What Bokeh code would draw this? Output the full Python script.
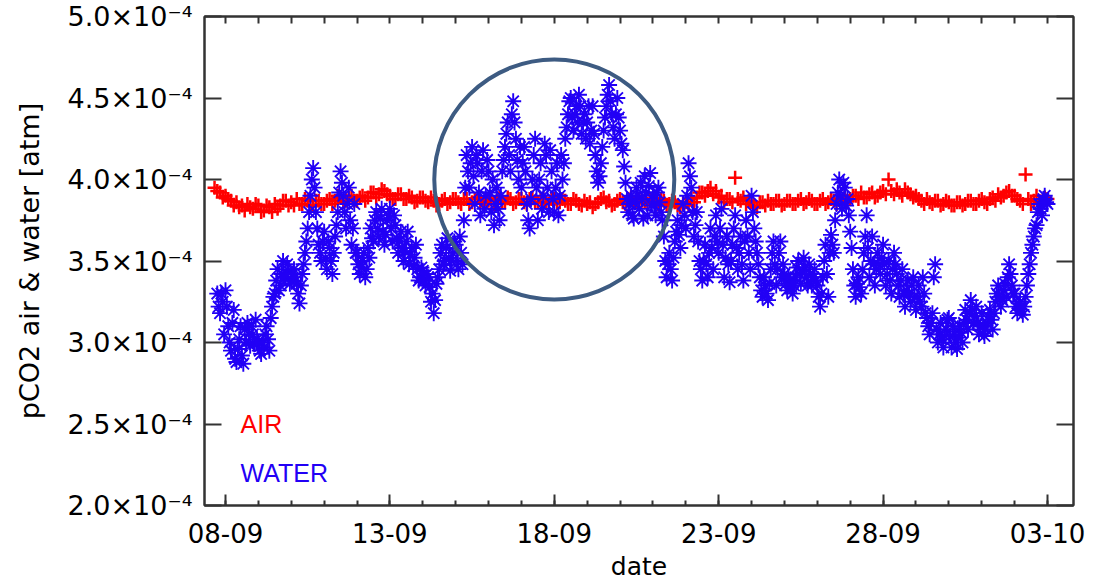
import pandas as pd
from bokeh.plotting import figure
from bokeh.models import (FixedTicker, DatetimeTickFormatter, CustomJSTickFormatter,
                          Label, Range1d, DatetimeAxis, LinearAxis, ColumnDataSource)
from bokeh.embed import file_html
from bokeh.resources import INLINE

# ---------------- data (pCO2 in units of 1e-4 atm) ----------------
# AIR: readings every 4 h starting 07-09 16:00 (set a) and 07-09 18:00 (set b)
air_start_a, air_start_b, air_step = "2013-09-07 16:00", "2013-09-07 18:00", "4h"
air_pco2_a = [
    3.95, 3.92,
    3.90, 3.87, 3.86, 3.84, 3.85, 3.82,   # 08-09
    3.84, 3.81, 3.83, 3.85, 3.84, 3.87,   # 09-09
    3.86, 3.88, 3.85, 3.87, 3.84, 3.87,   # 10-09
    3.85, 3.88, 3.87, 3.89, 3.87, 3.90,   # 11-09
    3.87, 3.90, 3.89, 3.92, 3.91, 3.93,   # 12-09
    3.90, 3.88, 3.91, 3.88, 3.89, 3.87,   # 13-09
    3.89, 3.86, 3.87, 3.85, 3.88, 3.86,   # 14-09
    3.88, 3.85, 3.88, 3.86, 3.89, 3.86,   # 15-09
    3.87, 3.85, 3.89, 3.86, 3.88, 3.86,   # 16-09
    3.88, 3.85, 3.89, 3.86, 3.88, 3.85,   # 17-09
    3.88, 3.86, 3.87, 3.85, 3.87, 3.84,   # 18-09
    3.85, 3.83, 3.86, 3.89, 3.87, 3.85,   # 19-09
    3.88, 3.85, 3.89, 3.86, 3.87, 3.85,   # 20-09
    3.88, 3.85, 3.87, 3.85, 3.86, 3.83,   # 21-09
    3.86, 3.88, 3.89, 3.92, 3.93, 3.91,   # 22-09
    3.89, 3.86, 3.88, 4.01, 3.87, 3.85,   # 23-09
    3.86, 3.83, 3.86, 3.87, 3.85, 3.87,   # 24-09
    3.85, 3.87, 3.85, 3.88, 3.86, 3.87,   # 25-09
    3.85, 3.88, 3.86, 3.87, 3.88, 3.89,   # 26-09
    3.88, 3.90, 3.92, 3.89, 3.92, 3.90,   # 27-09
    3.93, 4.00, 3.91, 3.92, 3.94, 3.91,   # 28-09
    3.90, 3.87, 3.88, 3.85, 3.87, 3.85,   # 29-09
    3.86, 3.84, 3.86, 3.85, 3.87, 3.85,   # 30-09
    3.88, 3.85, 3.89, 3.91, 3.90, 3.93,   # 01-10
    3.90, 3.87, 4.03, 3.85, 3.90, 3.86,   # 02-10
    3.88,
]
air_pco2_b = [
    3.93, 3.89,
    3.88, 3.84, 3.83, 3.81, 3.83, 3.85,   # 08-09
    3.80, 3.84, 3.80, 3.82, 3.87, 3.84,   # 09-09
    3.84, 3.85, 3.88, 3.84, 3.87, 3.85,   # 10-09
    3.87, 3.85, 3.90, 3.86, 3.89, 3.87,   # 11-09
    3.89, 3.87, 3.92, 3.89, 3.94, 3.91,   # 12-09
    3.88, 3.91, 3.88, 3.90, 3.86, 3.89,   # 13-09
    3.87, 3.89, 3.84, 3.87, 3.85, 3.88,   # 14-09
    3.86, 3.88, 3.85, 3.88, 3.86, 3.88,   # 15-09
    3.88, 3.87, 3.86, 3.89, 3.85, 3.88,   # 16-09
    3.86, 3.88, 3.86, 3.88, 3.86, 3.88,   # 17-09
    3.86, 3.88, 3.85, 3.88, 3.85, 3.87,   # 18-09
    3.86, 3.85, 3.88, 3.86, 3.84, 3.87,   # 19-09
    3.86, 3.88, 3.86, 3.88, 3.86, 3.88,   # 20-09
    3.86, 3.88, 3.84, 3.87, 3.84, 3.85,   # 21-09
    3.84, 3.86, 3.92, 3.90, 3.95, 3.93,   # 22-09
    3.90, 3.88, 3.86, 3.88, 3.89, 3.87,   # 23-09
    3.84, 3.86, 3.84, 3.85, 3.87, 3.84,   # 24-09
    3.87, 3.85, 3.87, 3.85, 3.88, 3.85,   # 25-09
    3.87, 3.85, 3.88, 3.85, 3.86, 3.87,   # 26-09
    3.90, 3.88, 3.89, 3.91, 3.89, 3.92,   # 27-09
    3.91, 3.93, 3.94, 3.90, 3.92, 3.89,   # 28-09
    3.88, 3.85, 3.86, 3.87, 3.84, 3.87,   # 29-09
    3.84, 3.86, 3.84, 3.87, 3.85, 3.87,   # 30-09
    3.86, 3.88, 3.87, 3.89, 3.92, 3.90,   # 01-10
    3.88, 3.85, 3.88, 3.87, 3.85, 3.89,   # 02-10
]

# WATER: readings every 2 h starting 07-09 18:00 (set a) and 07-09 19:00 (set b)
water_start_a, water_start_b, water_step = "2013-09-07 18:00", "2013-09-07 19:00", "2h"
water_pco2_a = [
    3.30, 3.18, 3.25,
    3.32, 3.10, 2.95, 3.20, 2.88, 3.02, 2.92, 3.08, 3.12, 2.98, 3.05, 3.14,   # 08-09
    3.00, 2.93, 2.97, 3.10, 2.95, 3.22, 3.30, 3.45, 3.35, 3.50, 3.40, 3.44,   # 09-09
    3.38, 3.45, 3.36, 3.24, 3.42, 3.55, 3.70, 3.90, 4.07, 3.80, 3.60, 3.50,   # 10-09
    3.68, 3.45, 3.58, 3.42, 3.65, 3.80, 4.05, 3.90, 3.70, 3.95, 3.60, 3.85,   # 11-09
    3.55, 3.42, 3.50, 3.40, 3.58, 3.70, 3.62, 3.80, 3.65, 3.82, 3.60, 3.75,   # 12-09
    3.82, 3.62, 3.72, 3.55, 3.68, 3.50, 3.62, 3.48, 3.58, 3.52, 3.45, 3.40,   # 13-09
    3.44, 3.35, 3.40, 3.25, 3.18, 3.36, 3.45, 3.60, 3.50, 3.64, 3.44, 3.55,   # 14-09
    3.60, 3.45, 3.55, 3.75, 4.15, 3.95, 4.20, 3.85, 4.10, 3.78, 4.18, 3.90,   # 15-09
    4.05, 3.80, 3.72, 3.95, 3.75, 4.05, 4.20, 4.35, 4.05, 4.48, 4.25, 4.00,   # 16-09
    3.95, 4.20, 3.85, 3.70, 4.00, 4.25, 3.75, 4.10, 3.90, 4.15, 3.80, 4.05,   # 17-09
    3.80, 4.10, 3.90, 4.00, 4.25, 4.40, 4.50, 4.30, 4.45, 4.52, 4.28, 4.40,   # 18-09
    4.35, 4.22, 4.45, 4.15, 3.98, 4.10, 4.30, 4.45, 4.58, 4.40, 4.25, 4.50,   # 19-09
    4.30, 4.18, 3.98, 3.80, 3.90, 3.76, 3.95, 3.82, 3.88, 4.02, 3.78, 4.04,   # 20-09
    3.90, 3.78, 3.95, 3.80, 3.65, 3.40, 3.55, 3.38, 3.62, 3.75, 3.58, 3.85,   # 21-09
    3.70, 4.10, 3.95, 3.65, 3.80, 3.50, 3.38, 3.60, 3.40, 3.70, 3.45, 3.78,   # 22-09
    3.55, 3.82, 3.40, 3.65, 3.37, 3.60, 3.78, 3.45, 3.65, 3.38, 3.75, 3.55,   # 23-09
    3.90, 3.70, 3.55, 3.40, 3.28, 3.35, 3.26, 3.45, 3.62, 3.35, 3.55, 3.40,   # 24-09
    3.42, 3.32, 3.38, 3.30, 3.40, 3.50, 3.36, 3.52, 3.40, 3.48, 3.35, 3.45,   # 25-09
    3.35, 3.22, 3.40, 3.60, 3.28, 3.66, 3.55, 3.85, 4.00, 3.82, 3.95, 3.88,   # 26-09
    3.68, 3.45, 3.28, 3.40, 3.30, 3.55, 3.78, 3.40, 3.65, 3.35, 3.55, 3.42,   # 27-09
    3.60, 3.35, 3.50, 3.30, 3.55, 3.42, 3.28, 3.45, 3.22, 3.38, 3.25, 3.40,   # 28-09
    3.20, 3.35, 3.22, 3.30, 3.15, 3.05, 3.18, 3.48, 3.00, 3.12, 2.97, 3.08,   # 29-09
    3.15, 2.97, 3.05, 2.96, 3.10, 3.00, 3.20, 3.08, 3.26, 3.12, 3.22, 3.05,   # 30-09
    3.18, 3.04, 3.12, 3.20, 3.08, 3.25, 3.35, 3.22, 3.32, 3.28, 3.48, 3.35,   # 01-10
    3.30, 3.18, 3.25, 3.17, 3.28, 3.42, 3.55, 3.65, 3.72, 3.85, 3.78, 3.90,   # 02-10
    3.85,
]
water_pco2_b = [
    3.22, 3.30, 3.05,
    3.22, 3.00, 3.12, 2.90, 2.96, 3.10, 2.87, 3.00, 3.05, 3.10, 2.99, 3.02,   # 08-09
    2.95, 3.00, 3.05, 3.02, 3.15, 3.28, 3.38, 3.32, 3.42, 3.40, 3.48, 3.36,   # 09-09
    3.42, 3.40, 3.30, 3.35, 3.48, 3.62, 3.80, 4.00, 3.95, 3.70, 3.55, 3.62,   # 10-09
    3.52, 3.62, 3.50, 3.55, 3.72, 3.92, 3.98, 3.80, 3.85, 3.75, 3.70, 3.55,   # 11-09
    3.48, 3.46, 3.55, 3.45, 3.52, 3.64, 3.75, 3.70, 3.76, 3.68, 3.66, 3.78,   # 12-09
    3.70, 3.78, 3.64, 3.62, 3.58, 3.56, 3.68, 3.54, 3.47, 3.60, 3.38, 3.46,   # 13-09
    3.38, 3.42, 3.34, 3.30, 3.26, 3.40, 3.55, 3.48, 3.58, 3.52, 3.50, 3.62,   # 14-09
    3.50, 3.65, 3.48, 3.95, 4.05, 4.10, 4.02, 4.15, 3.92, 4.05, 3.82, 4.12,   # 15-09
    3.92, 4.00, 3.85, 3.82, 3.90, 4.12, 4.28, 4.15, 4.40, 4.35, 4.12, 4.20,   # 16-09
    4.10, 4.05, 3.75, 3.88, 4.15, 3.95, 4.00, 3.82, 4.22, 3.95, 4.18, 3.88,   # 17-09
    3.95, 3.78, 4.15, 4.10, 4.32, 4.48, 4.38, 4.40, 4.35, 4.45, 4.35, 4.25,   # 18-09
    4.45, 4.30, 4.28, 4.05, 4.02, 4.20, 4.38, 4.52, 4.48, 4.32, 4.40, 4.38,   # 19-09
    4.22, 4.08, 3.88, 3.85, 3.78, 3.86, 3.90, 3.98, 3.76, 3.92, 3.96, 3.84,   # 20-09
    3.84, 3.92, 3.86, 3.75, 3.50, 3.48, 3.45, 3.52, 3.68, 3.66, 3.72, 3.78,   # 21-09
    3.90, 4.02, 3.80, 3.72, 3.62, 3.45, 3.50, 3.48, 3.55, 3.58, 3.65, 3.62,   # 22-09
    3.70, 3.60, 3.52, 3.48, 3.50, 3.70, 3.58, 3.55, 3.48, 3.62, 3.65, 3.45,   # 23-09
    3.80, 3.62, 3.48, 3.32, 3.40, 3.30, 3.36, 3.55, 3.48, 3.45, 3.62, 3.48,   # 24-09
    3.36, 3.40, 3.34, 3.35, 3.46, 3.42, 3.44, 3.46, 3.35, 3.42, 3.40, 3.38,   # 25-09
    3.28, 3.30, 3.50, 3.42, 3.55, 3.60, 3.75, 3.92, 3.90, 3.98, 3.84, 3.78,   # 26-09
    3.58, 3.35, 3.36, 3.34, 3.45, 3.65, 3.58, 3.50, 3.48, 3.45, 3.48, 3.52,   # 27-09
    3.48, 3.42, 3.38, 3.45, 3.48, 3.35, 3.38, 3.30, 3.32, 3.30, 3.35, 3.28,   # 28-09
    3.28, 3.25, 3.40, 3.18, 3.10, 3.12, 3.40, 3.08, 3.05, 3.02, 3.04, 3.14,   # 29-09
    3.04, 3.10, 3.00, 3.03, 3.06, 3.12, 3.14, 3.18, 3.20, 3.16, 3.12, 3.10,   # 30-09
    3.10, 3.08, 3.16, 3.14, 3.18, 3.30, 3.28, 3.26, 3.36, 3.40, 3.42, 3.30,   # 01-10
    3.22, 3.24, 3.20, 3.22, 3.35, 3.48, 3.60, 3.70, 3.80, 3.82, 3.88, 3.86,   # 02-10
]

major_tick_dates = ["2013-09-08", "2013-09-13", "2013-09-18",
                    "2013-09-23", "2013-09-28", "2013-10-03"]
y_ticks = [2.0, 2.5, 3.0, 3.5, 4.0, 4.5, 5.0]
x_start, x_end = "2013-09-07 08:40", "2013-10-03 19:00"
y_start, y_end = 2.0, 5.0

highlight_center = ("2013-09-18 00:00", 4.0)
air_label_pos = ("2013-09-08 11:00", 2.5)
water_label_pos = ("2013-09-08 11:00", 2.2)

# ---------------- helpers ----------------
def ms(s):
    return pd.Timestamp(s).value / 1e6

def series(start_a, a, start_b, b, step):
    ta = list(pd.date_range(start_a, periods=len(a), freq=step))
    tb = list(pd.date_range(start_b, periods=len(b), freq=step))
    return ColumnDataSource(dict(t=ta + tb, v=list(a) + list(b)))

air_src = series(air_start_a, air_pco2_a, air_start_b, air_pco2_b, air_step)
water_src = series(water_start_a, water_pco2_a, water_start_b, water_pco2_b, water_step)

major_ms = [ms(d) for d in major_tick_dates]
minor_ms = [ms(d) for d in pd.date_range("2013-09-08", "2013-10-03", freq="1D")]

FONT = "DejaVu Sans"
AX = "#333333"

p = figure(frame_width=869, frame_height=489, x_axis_type="datetime",
           output_backend="svg", toolbar_location=None,
           min_border_left=204, min_border_right=22, min_border_top=16, min_border_bottom=76,
           x_range=Range1d(ms(x_start), ms(x_end)), y_range=Range1d(y_start, y_end),
           background_fill_color="white", border_fill_color="white")
p.grid.visible = False
p.outline_line_color = AX
p.outline_line_width = 2

# bottom axis
xa = p.xaxis[0]
xa.ticker = FixedTicker(ticks=major_ms, minor_ticks=minor_ms)
fmt = "%d-%m"
xa.formatter = DatetimeTickFormatter(days=fmt, months=fmt, hours=fmt, minutes=fmt,
                                     seconds=fmt, years=fmt, milliseconds=fmt,
                                     microseconds=fmt, minsec=fmt, hourmin=fmt)
xa.major_tick_in, xa.major_tick_out = 11, 0
xa.minor_tick_in, xa.minor_tick_out = 5, 0
xa.axis_label = "date"
# left axis
ya = p.yaxis[0]
ya.ticker = FixedTicker(ticks=y_ticks, minor_ticks=[])
ya.formatter = CustomJSTickFormatter(code="return tick.toFixed(1) + '\u00d710\u207b\u2074';")
ya.major_tick_in, ya.major_tick_out = 17, 0
ya.axis_label = "pCO2 air & water [atm]"

for ax in (xa, ya):
    ax.axis_line_color = AX
    ax.axis_line_width = 2
    ax.major_tick_line_color = AX
    ax.major_tick_line_width = 2
    ax.minor_tick_line_color = AX
    ax.minor_tick_line_width = 2
    ax.major_label_text_font = FONT
    ax.major_label_text_color = "black"
    ax.axis_label_text_font = FONT
    ax.axis_label_text_font_style = "normal"
    ax.axis_label_text_color = "black"
xa.major_label_text_font_size = "26px"
xa.axis_label_text_font_size = "25px"
xa.major_label_standoff = 17
xa.axis_label_standoff = 6
ya.major_label_text_font_size = "27px"
ya.axis_label_text_font_size = "27px"
ya.major_label_standoff = 12
ya.axis_label_standoff = 20

# mirrored top / right ticks (no labels)
top = DatetimeAxis(ticker=FixedTicker(ticks=[], minor_ticks=minor_ms))
right = LinearAxis(ticker=FixedTicker(ticks=[], minor_ticks=y_ticks))
for ax, tl in ((top, 7), (right, 17)):
    ax.axis_line_color = AX
    ax.axis_line_width = 2
    ax.minor_tick_in, ax.minor_tick_out = tl, 0
    ax.minor_tick_line_color = AX
    ax.minor_tick_line_width = 2
    ax.major_tick_in, ax.major_tick_out = 0, 0
    ax.major_label_standoff = 0
p.add_layout(top, "above")
p.add_layout(right, "right")

# data
p.scatter(x="t", y="v", source=air_src, marker="cross", size=14,
          line_color="#ff0000", line_width=2.5)
p.scatter(x="t", y="v", source=water_src, marker="asterisk", size=16,
          line_color="#2200f5", line_width=1.9)

# highlight ring
p.circle(x=[ms(highlight_center[0])], y=[highlight_center[1]], radius=120,
         radius_units="screen", fill_color=None, line_color="#3d5b82", line_width=4)

# legend texts
p.add_layout(Label(x=ms(air_label_pos[0]), y=air_label_pos[1], text="AIR",
                   text_color="#ff0000", text_font="Liberation Sans",
                   text_font_size="25px", text_baseline="alphabetic"))
p.add_layout(Label(x=ms(water_label_pos[0]), y=water_label_pos[1], text="WATER",
                   text_color="#2200f5", text_font="Liberation Sans",
                   text_font_size="25px", text_baseline="alphabetic"))

open("out.html", "w").write(file_html(p, INLINE))
